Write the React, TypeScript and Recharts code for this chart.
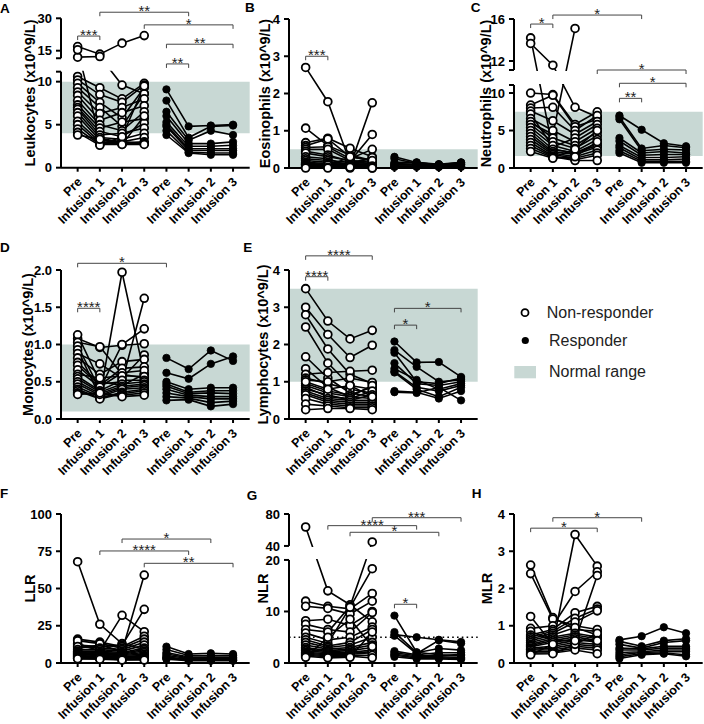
import { LineChart, Line, XAxis, YAxis, ReferenceArea, ReferenceLine } from 'recharts';

const FONT = '"Liberation Sans", Arial, Helvetica, sans-serif';
const SHADE = '#c8d8d4';
const AXIS_STROKE = { stroke: '#000', strokeWidth: 2 };

// x positions: 0-3 non-responders, 4-7 responders
const CATEGORIES = ['Pre', 'Infusion 1', 'Infusion 2', 'Infusion 3', 'Pre', 'Infusion 1', 'Infusion 2', 'Infusion 3'];
const X_TICKS = [0, 1, 2, 3, 4, 5, 6, 7];
const X_MIN = -0.75;
const X_MAX = 7.75;
const STEP = 22.2;
const PLOT_W = (X_MAX - X_MIN) * STEP;
const PRE_X = [78, 306, 531];

type Row4 = (number | null)[];
type Sig = [number, number, number, string];
type Break = { lowMax: number; upMin: number; upStart: number; ratio: number };

// each row = one patient: [Pre, Infusion 1, Infusion 2, Infusion 3]
const LEUK_NR: Row4[] = [
  [16.9, 13.4, 18.5, 22.0], [12.0, 12.3, 9.6, 8.6], [15.4, 3.4, 3.0, 2.8], [10.6, 9.3, 8.0, 9.8],
  [10.2, 8.5, 7.6, 9.6], [9.8, 7.6, 5.8, 9.3], [9.3, 7.0, 4.8, 8.6], [8.8, 6.3, 7.0, 8.0],
  [8.4, 5.5, 6.4, 7.2], [7.8, 5.0, 4.3, 6.5], [7.3, 4.6, 5.3, 5.7], [7.0, 4.2, 3.6, 5.2],
  [6.8, 3.8, 4.0, 4.6], [6.4, 3.5, 3.3, 4.0], [6.0, 3.2, 3.0, 3.5], [5.4, 3.0, 2.9, 3.0],
  [5.0, 2.8, 2.8, 2.8], [4.5, 2.7, 2.7, 2.7], [4.1, 2.6, 3.6, 9.5], [3.8, 3.3, 2.7, 6.0],
];
const LEUK_R: Row4[] = [
  [9.1, 4.8, 4.9, 5.0], [7.8, 3.5, 4.8, 4.9], [6.5, 3.2, 4.3, 3.8], [6.0, 2.8, 2.8, 3.0],
  [5.3, 2.5, 2.5, 2.6], [5.0, 2.2, 2.2, 2.2], [4.8, 2.0, 2.0, 2.0], [4.3, 1.8, 1.7, 1.7],
  [3.8, 1.7, 1.5, 1.5],
];

const EOS_NR: Row4[] = [
  [2.7, 1.78, 0.15, 0.25], [1.07, 0.6, 0.35, 0.2], [0.68, 0.8, 0.53, 0.3], [0.6, 0.78, 0.3, 0.2],
  [0.55, 0.57, 0.25, 0.5], [0.5, 0.5, 0.2, 0.15], [0.45, 0.35, 0.18, 0.9], [0.4, 0.3, 0.2, 0.1],
  [0.3, 0.25, 0.05, 1.75], [0.25, 0.2, 0.15, 0.12], [0.2, 0.15, 0.12, 0.1], [0.15, 0.12, 0.1, 0.28],
  [0.12, 0.1, 0.1, 0.08], [0.1, 0.08, 0.08, 0.05], [0.1, 0.05, 0.3, 0.2], [0.08, 0.1, 0.05, 0.02],
  [0.05, 0.03, 0.03, 0.05], [0.05, 0.08, 0.02, 0.0], [0.02, 0.02, 0.0, 0.03], [0.0, 0.0, 0.02, 0.0],
];
const EOS_R: Row4[] = [
  [0.3, 0.15, 0.1, 0.15], [0.25, 0.12, 0.1, 0.12], [0.15, 0.15, 0.08, 0.15], [0.12, 0.1, 0.08, 0.1],
  [0.1, 0.1, 0.05, 0.08], [0.08, 0.08, 0.05, 0.1], [0.05, 0.05, 0.05, 0.05], [0.05, 0.03, 0.03, 0.05],
  [0.03, 0.05, 0.03, 0.03],
];

const NEUT_NR: Row4[] = [
  [14.2, 2.5, 2.0, 3.0], [13.67, 11.6, 8.1, 6.8], [10.0, 9.8, 5.8, 7.5], [6.0, 4.5, 15.1, null],
  [8.4, 9.7, 5.5, 6.5], [8.0, 8.1, 5.0, 7.0], [7.6, 6.3, 4.5, 6.2], [7.2, 2.8, 4.0, 5.8],
  [6.6, 5.0, 3.5, 5.3], [6.2, 4.0, 3.0, 4.8], [5.8, 3.5, 2.6, 4.3], [5.4, 3.0, 2.2, 3.8],
  [5.0, 2.5, 2.0, 3.3], [4.6, 2.2, 1.8, 2.8], [4.2, 2.0, 1.5, 2.4], [3.8, 1.8, 1.3, 2.0],
  [3.4, 1.6, 1.1, 1.7], [3.0, 1.5, 1.0, 1.0], [2.6, 1.4, 2.5, 5.0], [2.2, 1.3, 1.5, 3.5],
];
const NEUT_R: Row4[] = [
  [7.0, 5.1, 3.3, 2.9], [6.8, 2.6, 3.0, 2.7], [6.5, 2.3, 2.5, 2.4], [4.0, 2.0, 2.2, 2.0],
  [3.6, 1.7, 1.8, 1.8], [3.0, 1.4, 1.4, 1.5], [2.7, 1.1, 1.1, 1.2], [2.3, 0.9, 0.9, 0.9],
  [2.0, 0.7, 0.7, 0.7],
];

const MONO_NR: Row4[] = [
  [1.08, 0.96, 0.99, 1.01], [1.13, 0.5, 0.45, 0.6], [1.03, 0.97, 0.6, 0.55], [0.98, 0.4, 1.0, 1.21],
  [0.93, 0.3, 1.97, 0.6], [0.88, 0.74, 0.55, 0.86], [0.82, 0.6, 0.77, 0.8], [0.76, 0.47, 0.5, 1.62],
  [0.72, 0.45, 0.68, 0.7], [0.66, 0.43, 0.62, 0.65], [0.6, 0.55, 0.58, 0.57], [0.57, 0.38, 0.52, 0.52],
  [0.54, 0.36, 0.47, 0.5], [0.5, 0.34, 0.44, 0.47], [0.47, 0.32, 0.42, 0.45], [0.43, 0.3, 0.4, 0.42],
  [0.4, 0.28, 0.36, 0.4], [0.38, 0.27, 0.34, 0.38], [0.35, 0.33, 0.32, 0.35], [0.33, 0.35, 0.3, 0.32],
];
const MONO_R: Row4[] = [
  [0.82, 0.67, 0.92, 0.78], [0.62, 0.54, 0.74, 0.84], [0.5, 0.4, 0.42, 0.42], [0.47, 0.36, 0.38, 0.38],
  [0.44, 0.34, 0.35, 0.34], [0.4, 0.32, 0.3, 0.3], [0.35, 0.3, 0.27, 0.27], [0.3, 0.28, 0.22, 0.24],
  [0.25, 0.26, 0.17, 0.2],
];

const LYMPH_NR: Row4[] = [
  [3.5, 2.63, 2.15, 2.38], [3.0, 2.27, 1.65, 1.98], [2.8, 1.88, 1.2, 0.95], [2.47, 1.5, 0.9, 0.8],
  [1.67, 1.1, 0.7, 0.6], [1.35, 0.85, 0.6, 0.55], [1.2, 1.25, 1.28, 1.31], [1.1, 0.95, 0.8, 0.7],
  [1.05, 1.0, 1.1, 0.98], [0.95, 0.75, 0.65, 0.85], [0.9, 0.7, 0.6, 0.9], [0.85, 0.6, 0.55, 0.75],
  [0.8, 0.65, 0.5, 0.65], [0.75, 0.55, 0.5, 0.5], [0.7, 0.5, 0.45, 0.45], [0.65, 0.45, 0.4, 0.4],
  [0.55, 0.4, 0.35, 0.35], [0.4, 0.35, 0.3, 0.3], [0.25, 0.28, 0.28, 0.25], [1.0, 0.8, 0.9, 0.6],
];
const LYMPH_R: Row4[] = [
  [2.08, 1.52, 1.53, 1.13], [1.85, 1.4, 1.0, 1.05], [1.78, 1.0, 0.95, 1.1], [1.5, 0.95, 0.9, 1.0],
  [1.35, 1.05, 0.8, 0.95], [1.28, 0.85, 0.75, 0.9], [1.25, 0.8, 0.6, 0.85], [0.75, 0.72, 0.55, 0.75],
  [0.72, 0.7, 0.85, 0.5],
];

const LLR_NR: Row4[] = [
  [68, 26, 13, 9], [13, 8, 32, 21], [10, 12, 8, 59], [12, 11, 12, 36],
  [16, 14, 11, 18], [15, 13, 10, 16], [11, 10, 9, 14], [9, 9, 8, 12],
  [8, 8, 7, 10], [7.5, 7, 6.5, 9], [7, 6.5, 6, 8], [6.5, 6, 5.5, 7],
  [6, 5.5, 5, 6], [5.5, 5, 4.5, 5], [5, 4.5, 4, 4.5], [4.5, 4, 3.5, 4],
  [4, 3.5, 3, 3.5], [3.5, 3, 2.5, 3], [3, 3, 2.2, 2.5], [2.8, 2.5, 2, 2],
];
const LLR_R: Row4[] = [
  [11, 6, 6.5, 6], [9, 5, 5, 5], [7, 4, 4, 4], [6, 3.5, 3.5, 3.5],
  [5, 3, 3, 3], [4, 2.5, 2.5, 2.5], [3.5, 2, 2, 2], [3, 2, 1.8, 1.8],
  [2.5, 1.5, 1.5, 1.5],
];

const NLR_NR: Row4[] = [
  [63.75, 14, 11.3, 8], [12, 11, 10.5, 13.5], [11, 10.6, 9.5, 12], [8.2, 8.5, 7.3, 10],
  [7.5, 6.5, 6, 9.8], [6.5, 6, 11, 45], [5.8, 4.5, 5, 7], [5, 3.8, 10.8, 18.3],
  [4.5, 3.3, 4, 6.5], [4, 3, 3.5, 5], [3.5, 2.7, 3, 4], [3, 2.4, 2.7, 3.5],
  [2.7, 2.2, 2.4, 3], [2.4, 2, 2.1, 2.5], [2.1, 1.8, 1.9, 2.2], [1.9, 1.6, 1.7, 2],
  [1.7, 1.4, 1.5, 1.5], [1.5, 1.2, 1.3, 1], [1.3, 1, 1.1, 6], [1.1, 5, 8.5, 3.2],
];
const NLR_R: Row4[] = [
  [9.2, 2.1, 1.6, 1.4], [6.0, 2.0, 2.8, 2.5], [5.5, 5.0, 4.5, 4.1], [5.3, 1.8, 4.4, 3.8],
  [2.3, 1.6, 2.0, 2.0], [2.0, 1.4, 1.4, 1.7], [1.7, 1.2, 1.2, 1.1], [1.5, 1.0, 1.0, 0.9],
  [1.2, 0.8, 0.8, 0.7],
];

const MLR_NR: Row4[] = [
  [2.63, 1.22, 0.9, 0.85], [2.4, 1.18, 1.0, 0.9], [1.25, 0.5, 3.45, 2.6], [0.93, 1.0, 1.92, 2.45],
  [0.85, 0.6, 0.6, 2.35], [0.75, 0.9, 1.35, 1.52], [0.7, 0.85, 1.2, 1.45], [0.65, 0.8, 1.1, 1.4],
  [0.6, 0.75, 0.95, 0.75], [0.55, 0.7, 0.8, 0.7], [0.5, 0.65, 0.75, 0.65], [0.47, 0.6, 0.7, 0.6],
  [0.44, 0.55, 0.65, 0.55], [0.4, 0.45, 0.55, 0.5], [0.37, 0.4, 0.5, 0.45], [0.35, 0.35, 0.45, 0.4],
  [0.3, 0.3, 0.4, 0.35], [0.27, 0.27, 0.35, 0.25], [0.24, 0.25, 0.5, 0.8], [0.22, 0.5, 0.6, 0.6],
];
const MLR_R: Row4[] = [
  [0.62, 0.72, 0.96, 0.8], [0.58, 0.45, 0.6, 0.65], [0.5, 0.4, 0.55, 0.6], [0.4, 0.38, 0.45, 0.45],
  [0.35, 0.35, 0.4, 0.4], [0.28, 0.3, 0.35, 0.35], [0.22, 0.28, 0.3, 0.3], [0.17, 0.25, 0.27, 0.22],
  [0.12, 0.22, 0.25, 0.18],
];

// broken y axes (lower part in data units, upper part compressed)
const LEUK_BREAK: Break = { lowMax: 11.16, upMin: 11.5, upStart: 12.72, ratio: 0.251 };
const NEUT_BREAK: Break = { lowMax: 11.07, upMin: 11.14, upStart: 13.07, ratio: 1.4 };
const NLR_BREAK: Break = { lowMax: 20, upMin: 40, upStart: 22.72, ratio: 0.155 };

// significance brackets: [from, to, height in axis units, stars]
const LEUK_SIG: Sig[] = [[0, 1, 15.3, '***'], [1, 5, 18.07, '**'], [3, 7, 16.6, '*'], [4, 7, 14.35, '**'], [4, 5, 12.06, '**']];
const EOS_SIG: Sig[] = [[0, 1, 3.0, '***']];
const NEUT_SIG: Sig[] = [[0, 1, 19.2, '*'], [1, 5, 20.4, '*'], [3, 7, 13.07, '*'], [4, 7, 11.3, '*'], [4, 5, 9.29, '**']];
const MONO_SIG: Sig[] = [[0, 1, 1.486, '****'], [0, 4, 2.09, '*']];
const LYMPH_SIG: Sig[] = [[0, 1, 3.82, '****'], [0, 3, 4.38, '****'], [4, 5, 2.52, '*'], [4, 7, 2.97, '*']];
const LLR_SIG: Sig[] = [[2, 6, 83.2, '*'], [1, 5, 75.2, '****'], [3, 7, 66.9, '**']];
const NLR_SIG: Sig[] = [[1, 5, 26.66, '****'], [2, 6, 25.37, '*'], [3, 7, 28.2, '***'], [4, 5, 11.4, '*']];
const MLR_SIG: Sig[] = [[0, 3, 3.62, '*'], [1, 5, 3.9, '*']];

type PanelDef = {
  id: string;
  yLabel: string;
  nr: Row4[];
  r: Row4[];
  col: number;
  rowTop: number;
  plotTop: number;
  plotBottom: number;
  labelDist: number;
  yMax: number;
  ticks: number[];
  fmt?: (v: number) => string;
  brk?: Break;
  range?: [number, number];
  sig: Sig[];
  refY?: number;
};

const PANELS: PanelDef[] = [
  { id: 'A', yLabel: 'Leukocytes (x10^9/L)', nr: LEUK_NR, r: LEUK_R, col: 0, rowTop: 0, plotTop: 18.3, plotBottom: 167.7, labelDist: 31, yMax: 30, ticks: [0, 5, 10, 15, 30], brk: LEUK_BREAK, range: [4, 10], sig: LEUK_SIG },
  { id: 'B', yLabel: 'Eosinophils (x10^9/L)', nr: EOS_NR, r: EOS_R, col: 1, rowTop: 0, plotTop: 19, plotBottom: 168, labelDist: 24, yMax: 4, ticks: [0, 1, 2, 3, 4], range: [0, 0.5], sig: EOS_SIG },
  { id: 'C', yLabel: 'Neutrophils (x10^9/L)', nr: NEUT_NR, r: NEUT_R, col: 2, rowTop: 0, plotTop: 19, plotBottom: 168, labelDist: 28, yMax: 16, ticks: [0, 5, 10, 12, 16], brk: NEUT_BREAK, range: [1.6, 7.5], sig: NEUT_SIG },
  { id: 'D', yLabel: 'Monocytes (x10^9/L)', nr: MONO_NR, r: MONO_R, col: 0, rowTop: 240, plotTop: 270, plotBottom: 419, labelDist: 33, yMax: 2, ticks: [0, 0.5, 1, 1.5, 2], fmt: (v) => v.toFixed(1), range: [0.1, 1.0], sig: MONO_SIG },
  { id: 'E', yLabel: 'Lymphocytes (x10^9/L)', nr: LYMPH_NR, r: LYMPH_R, col: 1, rowTop: 240, plotTop: 270, plotBottom: 419, labelDist: 26, yMax: 4, ticks: [0, 1, 2, 3, 4], range: [1.0, 3.5], sig: LYMPH_SIG },
  { id: 'F', yLabel: 'LLR', nr: LLR_NR, r: LLR_R, col: 0, rowTop: 480, plotTop: 514, plotBottom: 663, labelDist: 31, yMax: 100, ticks: [0, 25, 50, 75, 100], sig: LLR_SIG },
  { id: 'G', yLabel: 'NLR', nr: NLR_NR, r: NLR_R, col: 1, rowTop: 480, plotTop: 514, plotBottom: 663, labelDist: 26, yMax: 80, ticks: [0, 10, 20, 40, 80], brk: NLR_BREAK, sig: NLR_SIG, refY: 5 },
  { id: 'H', yLabel: 'MLR', nr: MLR_NR, r: MLR_R, col: 2, rowTop: 480, plotTop: 514, plotBottom: 663, labelDist: 27, yMax: 4, ticks: [0, 1, 2, 3, 4], sig: MLR_SIG },
];

const LETTERS: [string, number, number][] = [
  ['A', 0, 12.7], ['B', 245, 12.3], ['C', 470.7, 12.3], ['D', 0, 251.7],
  ['E', 243.3, 251.7], ['F', 0, 498.3], ['G', 246.7, 500], ['H', 471.7, 498.3],
];

function toAxis(v: number, brk?: Break) {
  if (!brk || v <= brk.lowMax) return v;
  if (v >= brk.upMin) return brk.upStart + (v - brk.upMin) * brk.ratio;
  return brk.lowMax + ((v - brk.lowMax) / (brk.upMin - brk.lowMax)) * (brk.upStart - brk.lowMax);
}

function buildRows(nr: Row4[], r: Row4[], yTop: number, brk?: Break) {
  const rows: any[] = X_TICKS.map((x) => ({ x }));
  nr.forEach((p, k) => p.forEach((v, t) => { if (v != null) rows[t][`n${k}`] = toAxis(v, brk); }));
  r.forEach((p, k) => p.forEach((v, t) => { if (v != null) rows[t + 4][`r${k}`] = toAxis(v, brk); }));
  if (!brk) return rows;
  // the two pieces of a broken y axis line, drawn at the left edge
  const axisRows = [
    { x: X_MIN, axLow: 0 }, { x: X_MIN, axLow: brk.lowMax },
    { x: X_MIN, axUp: brk.upStart }, { x: X_MIN, axUp: yTop },
  ];
  return [...axisRows, ...rows];
}

function renderXTick(props: any) {
  const { x, y, payload } = props;
  const ax = x + 5;
  const ay = y + 9;
  return (
    <text x={ax} y={ay} textAnchor="end" transform={`rotate(-45 ${ax} ${ay})`}
      fontSize={12.5} fontWeight="bold" fontFamily={FONT} fill="#000">
      {CATEGORIES[payload.value]}
    </text>
  );
}

const bracket = (stars: string) => (p: any) => {
  const { x1, y1, x2 } = p;
  if (x1 == null || y1 == null) return <g />;
  return (
    <g>
      <path d={`M${x1},${y1 + 4}V${y1}H${x2}V${y1 + 4}`} stroke="#444" strokeWidth={1} fill="none" />
      <text x={(x1 + x2) / 2} y={y1 + 4} textAnchor="middle" fontSize={15} fill="#222" fontFamily={FONT}>{stars}</text>
    </g>
  );
};

function Panel({ p }: { p: PanelDef }) {
  const brk = p.brk;
  const yTop = toAxis(p.yMax, brk);
  const rows = buildRows(p.nr, p.r, yTop, brk);
  const nrKeys = p.nr.map((_, k) => `n${k}`);
  const rKeys = p.r.map((_, k) => `r${k}`);
  const yTicks = p.ticks.map((t) => ({ v: toAxis(t, brk), label: p.fmt ? p.fmt(t) : String(t) }));
  if (brk) {
    [brk.lowMax, brk.upStart].forEach((v) => {
      if (!yTicks.some((t) => Math.abs(t.v - v) < 1e-6)) yTicks.push({ v, label: '' });
    });
  }
  yTicks.sort((a, b) => a.v - b.v);
  const yW = p.labelDist * 2;
  const plotLeft = PRE_X[p.col] + X_MIN * STEP;
  const marginTop = p.plotTop - p.rowTop;
  const xH = 75;
  const onePx = yTop / (p.plotBottom - p.plotTop);

  return (
    <div style={{ position: 'absolute', left: plotLeft - yW, top: p.rowTop }}>
      <LineChart width={yW + PLOT_W + 8} height={p.plotBottom - p.rowTop + xH} data={rows}
        margin={{ top: marginTop, right: 8, bottom: 0, left: 0 }}>
        <XAxis dataKey="x" type="number" domain={[X_MIN, X_MAX]} ticks={X_TICKS} interval={0}
          height={xH} tickSize={4} tickMargin={2} axisLine={AXIS_STROKE} tickLine={AXIS_STROKE} tick={renderXTick} />
        <YAxis type="number" domain={[0, yTop]} ticks={yTicks.map((t) => t.v)} interval={0} width={yW}
          tickSize={5} tickMargin={4} axisLine={brk ? false : AXIS_STROKE} tickLine={AXIS_STROKE}
          tick={{ fill: '#000', fontSize: 13, fontWeight: 'bold', fontFamily: FONT }}
          tickFormatter={(v: number) => {
            const t = yTicks.find((q) => Math.abs(q.v - v) < 1e-6);
            return t ? t.label : '';
          }}
          label={{ value: p.yLabel, angle: -90, position: 'center', fill: '#000', fontSize: 14.5, fontWeight: 'bold', fontFamily: FONT }} />
        {p.range && (
          <ReferenceArea x1={X_MIN} x2={X_MAX} y1={toAxis(p.range[0], brk)} y2={toAxis(p.range[1], brk)}
            fill={SHADE} fillOpacity={1} stroke="none" zIndex={50} />
        )}
        {nrKeys.concat(rKeys).map((k) => (
          <Line key={`l${k}`} dataKey={k} stroke="#000" strokeWidth={1.6} dot={false} activeDot={false}
            isAnimationActive={false} zIndex={400} />
        ))}
        {p.refY != null && (
          <ReferenceLine y={p.refY} stroke="#000" strokeWidth={1.6} strokeDasharray="1.6 3.2" zIndex={410} />
        )}
        {brk && (
          <ReferenceArea x1={X_MIN} x2={X_MAX} y1={brk.lowMax + onePx} y2={brk.upStart - onePx}
            fill="#fff" fillOpacity={1} stroke="none" zIndex={550} />
        )}
        {nrKeys.map((k) => (
          <Line key={`d${k}`} dataKey={k} stroke="none" strokeWidth={0} activeDot={false}
            dot={{ r: 3.9, fill: '#fff', stroke: '#000', strokeWidth: 1.8 }} isAnimationActive={false} zIndex={560} />
        ))}
        {rKeys.map((k) => (
          <Line key={`d${k}`} dataKey={k} stroke="none" strokeWidth={0} activeDot={false}
            dot={{ r: 3.7, fill: '#000', stroke: '#000', strokeWidth: 0.8 }} isAnimationActive={false} zIndex={560} />
        ))}
        {brk && ['axLow', 'axUp'].map((k) => (
          <Line key={k} dataKey={k} stroke="#000" strokeWidth={2} dot={false} activeDot={false}
            isAnimationActive={false} zIndex={580} />
        ))}
        {p.sig.map(([a, b, h, s], i) => (
          <ReferenceLine key={`s${i}`} segment={[{ x: a, y: h }, { x: b, y: h }]} ifOverflow="visible"
            shape={bracket(s)} zIndex={570} />
        ))}
      </LineChart>
    </div>
  );
}

export default function App() {
  return (
    <div style={{ position: 'absolute', left: 0, top: 0, width: 704, height: 724, background: '#fff', overflow: 'hidden', fontFamily: FONT }}>
      {PANELS.map((p) => <Panel key={p.id} p={p} />)}
      <svg width={704} height={724} style={{ position: 'absolute', left: 0, top: 0, pointerEvents: 'none' }}>
        {LETTERS.map(([t, x, y]) => (
          <text key={t} x={x} y={y} fontSize={13.5} fontWeight="bold" fontFamily={FONT} fill="#000">{t}</text>
        ))}
        <circle cx={525} cy={312.7} r={3.5} fill="#fff" stroke="#000" strokeWidth={1.8} />
        <text x={546.7} y={318.3} fontSize={16} fontFamily={FONT} fill="#222">Non-responder</text>
        <circle cx={525.3} cy={340.5} r={3.6} fill="#000" />
        <text x={549} y={346.3} fontSize={16} fontFamily={FONT} fill="#222">Responder</text>
        <rect x={514.3} y={366} width={21.7} height={12.3} fill={SHADE} />
        <text x={549} y={377.3} fontSize={16} fontFamily={FONT} fill="#222">Normal range</text>
      </svg>
    </div>
  );
}
